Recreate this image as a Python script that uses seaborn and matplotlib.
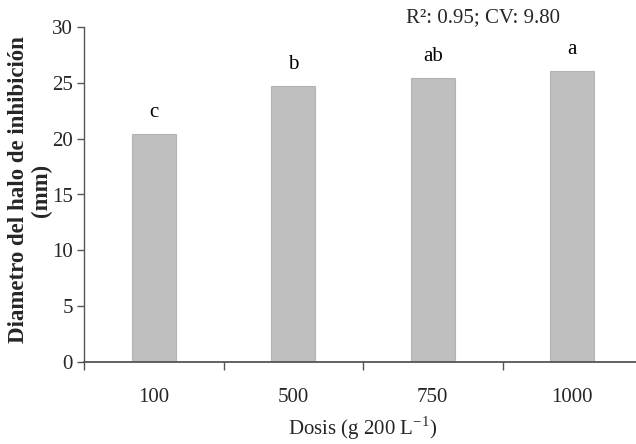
import matplotlib
matplotlib.use("Agg")
import matplotlib.pyplot as plt
import seaborn as sns
import pandas as pd

doses = ["100", "500", "750", "1000"]
diameter = [20.4, 24.7, 25.45, 26.05]
letters = ["c", "b", "ab", "a"]
stats_text = "R²: 0.95; CV: 9.80"

sns.set_style("white")
plt.rcParams["font.family"] = ["Liberation Serif", "DejaVu Serif"]
plt.rcParams["mathtext.fontset"] = "custom"
plt.rcParams["mathtext.rm"] = "Liberation Serif"

df = pd.DataFrame({"dose": doses, "diam": diameter})

fig = plt.figure(figsize=(6.36, 4.44), dpi=100)
ax = fig.add_axes([84 / 636, (444 - 362) / 444, 558 / 636, 335 / 444])

sns.barplot(data=df, x="dose", y="diam", color="#bfbfbf", width=0.315,
            edgecolor="#b3b3b3", linewidth=0.8, saturation=1, ax=ax)

ax.set_ylim(0, 30)
ax.set_xlim(-0.5, 3.5)
ax.set_yticks(range(0, 31, 5))

for i, (v, lab) in enumerate(zip(diameter, letters)):
    ax.text(i, v + 1.9, lab, ha="center", va="center", fontsize=15, color="black")

for s in ["top", "right"]:
    ax.spines[s].set_visible(False)
ax.spines["left"].set_color("#555555")
ax.spines["bottom"].set_color("#555555")
ax.spines["left"].set_linewidth(1.0)
ax.spines["bottom"].set_linewidth(1.3)

ax.set_xticks([-0.5, 0.5, 1.5, 2.5, 3.5], minor=True)
ax.tick_params(axis="x", which="minor", length=6, width=1, color="#555555", direction="out", bottom=True)
ax.tick_params(axis="x", which="major", length=0, labelsize=15, pad=19)
ax.tick_params(axis="y", which="major", length=5, width=1, color="#555555", direction="out", left=True, labelsize=15, pad=3)

ax.set_xlabel("")
ax.set_ylabel("")
fig.text(363 / 636, 2 / 444, r"Dosis (g 200 L$^{\mathregular{-1}}$)", fontsize=15,
         ha="center", va="bottom")
fig.text(30 / 636, 1 - 190 / 444, "Diametro del halo de inhibición\n(mm)", fontsize=16.5,
         fontweight="bold", rotation=90, ha="center", va="center", linespacing=1.1,
         multialignment="center")

fig.text(483 / 636, 1 - 18 / 444, stats_text, ha="center", va="center", fontsize=15)

fig.savefig("out.png", dpi=100)
